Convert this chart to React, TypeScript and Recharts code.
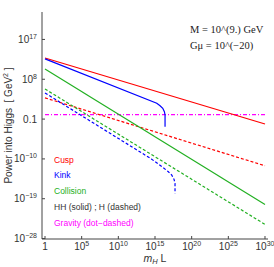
import { LineChart, Line, XAxis, YAxis } from "recharts";

document.body.style.margin = "0";

const xTicks = [1, 1e5, 1e10, 1e15, 1e20, 1e25, 1e30];
const yTicks = [1e17, 1e8, 0.1, 1e-10, 1e-19, 1e-28];

// [log10(m_H L), log10(power)]
const cuspHH = [[0, 12.8], [30, -2.1]];
const cuspH = [[0, 3.8], [30, -11.55]];
const kinkHH = [[0, 12.6], [15.24, 2.57], [15.69, 2.02], [16.06, 1.43], [16.28, 0.67], [16.37, -0.07], [16.37, -2.73]];
const kinkH = [[0, 4.9], [14.5, -10.0], [16.14, -12.0], [16.82, -12.9], [17.29, -13.66], [17.6, -14.63], [17.73, -15.53], [17.73, -17.8]];
const collisionHH = [[0, 10.3], [30, -20.3]];
const collisionH = [[0, 5.8], [30, -24.8]];
const gravity = [[0, 0], [30, 0]];

const toPoints = (pts: number[][]) => pts.map(([a, b]) => ({ x: 10 ** a, y: 10 ** b }));

const RED = "#ff0000";
const BLUE = "#0000ff";
const GREEN = "#22b022";
const MAGENTA = "#ff00ff";
const FRAME = "#444";
const SANS = "'Liberation Sans', Arial, sans-serif";
const SERIF = "'Liberation Serif', 'Times New Roman', serif";

function XTick({ x, y, payload }: any) {
  const e = Math.round(Math.log10(payload.value));
  return (
    <text x={x} y={y + 14} textAnchor="middle" fontSize={10} fill="#333" fontFamily={SANS}>
      {e === 0 ? "1" : (
        <>
          10<tspan dy={-4} fontSize={7}>{e}</tspan>
        </>
      )}
    </text>
  );
}

function YTick({ x, y, payload }: any) {
  const v = payload.value;
  const e = Math.round(Math.log10(v));
  return (
    <text x={x - 8} y={y + 3.5} textAnchor="end" fontSize={10} fill="#333" fontFamily={SANS}>
      {e === -1 ? "0.1" : (
        <>
          10<tspan dy={-4} fontSize={7}>{e < 0 ? "\u2212" + -e : e}</tspan>
        </>
      )}
    </text>
  );
}

const legend = [
  { text: "Cusp", color: RED },
  { text: "Kink", color: BLUE },
  { text: "Collision", color: GREEN },
  { text: "HH (solid) ; H (dashed)", color: "#333" },
  { text: "Gravity (dot\u2212dashed)", color: MAGENTA },
];

export default function App() {
  const xDomain = [10 ** -0.41, 10 ** 30.41];
  const yDomain = [10 ** -28.1, 10 ** 23.2];
  return (
    <div style={{ position: "relative", width: 274, height: 267 }}>
      <LineChart width={274} height={267} margin={{ top: 12, right: 6, bottom: 0, left: 0 }}>
        <XAxis
          dataKey="x"
          type="number"
          scale="log"
          domain={xDomain}
          allowDataOverflow
          ticks={xTicks}
          interval={0}
          height={28}
          tickSize={-3}
          tickMargin={0}
          stroke={FRAME}
          tick={<XTick />}
        />
        <XAxis
          xAxisId="top"
          orientation="top"
          dataKey="x"
          type="number"
          scale="log"
          domain={xDomain}
          allowDataOverflow
          ticks={xTicks}
          interval={0}
          height={0}
          tickSize={-3}
          stroke={FRAME}
          tick={false}
        />
        <YAxis
          dataKey="y"
          type="number"
          scale="log"
          domain={yDomain}
          allowDataOverflow
          ticks={yTicks}
          interval={0}
          width={42}
          tickSize={-3}
          tickMargin={0}
          stroke={FRAME}
          tick={<YTick />}
        />
        <YAxis
          yAxisId="right"
          orientation="right"
          dataKey="y"
          type="number"
          scale="log"
          domain={yDomain}
          allowDataOverflow
          ticks={yTicks}
          interval={0}
          width={0}
          tickSize={-3}
          stroke={FRAME}
          tick={false}
        />
        <Line data={toPoints(gravity)} dataKey="y" type="linear" stroke={MAGENTA} strokeWidth={1.2} strokeDasharray="4 2 1 2" dot={false} isAnimationActive={false} />
        <Line data={toPoints(cuspH)} dataKey="y" type="linear" stroke={RED} strokeWidth={1.2} strokeDasharray="3 2" dot={false} isAnimationActive={false} />
        <Line data={toPoints(kinkH)} dataKey="y" type="linear" stroke={BLUE} strokeWidth={1.2} strokeDasharray="3 2" dot={false} isAnimationActive={false} />
        <Line data={toPoints(collisionH)} dataKey="y" type="linear" stroke={GREEN} strokeWidth={1.2} strokeDasharray="3 2" dot={false} isAnimationActive={false} />
        <Line data={toPoints(cuspHH)} dataKey="y" type="linear" stroke={RED} strokeWidth={1.2} dot={false} isAnimationActive={false} />
        <Line data={toPoints(kinkHH)} dataKey="y" type="linear" stroke={BLUE} strokeWidth={1.2} dot={false} isAnimationActive={false} />
        <Line data={toPoints(collisionHH)} dataKey="y" type="linear" stroke={GREEN} strokeWidth={1.2} dot={false} isAnimationActive={false} />
      </LineChart>
      <svg width={274} height={267} style={{ position: "absolute", left: 0, top: 0, pointerEvents: "none" }}>
        <text x={190} y={32.5} fontSize={10.5} fontFamily={SERIF} fill="#222">M = 10^(9.) GeV</text>
        <text x={190} y={48.5} fontSize={10.5} fontFamily={SERIF} fill="#222">G{"\u03bc"} = 10^({"\u2212"}20)</text>
        {legend.map((l, i) => (
          <text key={l.text} x={54} y={162.5 + i * 15.85} fontSize={8.5} fontFamily={SANS} fill={l.color}>
            {l.text}
          </text>
        ))}
        <text x={155} y={262} textAnchor="middle" fontSize={10.5} fontFamily={SANS} fill="#333">
          <tspan fontStyle="italic">m</tspan>
          <tspan fontStyle="italic" fontSize={7.5} dy={2}>H</tspan>
          <tspan dy={-2}>{"\u00a0L"}</tspan>
        </text>
        <text x={11.5} y={125.5} transform="rotate(-90, 11.5, 125.5)" textAnchor="middle" fontSize={10} fontFamily={SANS} fill="#333">
          {"Power into Higgs\u00a0\u00a0[\u00a0GeV"}<tspan dy={-4} fontSize={7}>2</tspan><tspan dy={4}>{"\u00a0]"}</tspan>
        </text>
      </svg>
    </div>
  );
}
